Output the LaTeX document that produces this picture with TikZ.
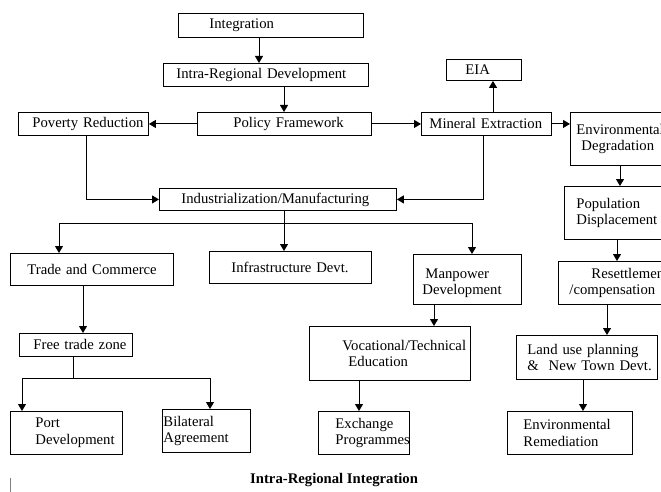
\documentclass[tikz,border=0pt]{standalone}
\usepackage{fontspec}
\setmainfont{Liberation Serif}
\usetikzlibrary{arrows.meta}
\tikzset{
  box/.style={draw=black, line width=0.9pt, inner sep=0pt, anchor=north west, align=left,
    font=\fontsize{14.7}{16.5}\selectfont},
  arr/.style={draw=black, line width=1pt, -{Triangle[length=7pt,width=8pt]}},
  conn/.style={draw=black, line width=1pt},
  caption/.style={font=\fontsize{14.7}{16.5}\selectfont\bfseries, anchor=west, inner sep=0pt}
}
\newcommand{\tl}[2]{\hspace*{#1pt}\mbox{#2}}
\hbadness=10000 \hfuzz=400pt
\begin{document}
\begin{tikzpicture}[x=1pt,y=-1pt]
\useasboundingbox (0,0) rectangle (661,492);
\clip (0,0) rectangle (661,492);
% boxes
\node[box, text width=185pt, minimum height=24pt] (integ) at (178,13) {\tl{31}{Integration}};
\node[box, text width=205pt, minimum height=23pt] (intra) at (163,63) {\tl{13}{Intra-Regional Development}};
\node[box, text width=174pt, minimum height=23pt] (policy) at (197,112) {\tl{36}{Policy Framework}};
\node[box, text width=130pt, minimum height=23pt] (poverty) at (18,112) {\tl{14}{Poverty Reduction}};
\node[box, text width=130pt, minimum height=23pt] (mineral) at (421,112) {\tl{8}{Mineral Extraction}};
\node[box, text width=75pt, minimum height=21pt] (eia) at (446,59) {\tl{19}{EIA}};
\node[box, text width=120pt, minimum height=53pt] (envdeg) at (570,112) {\tl{6}{Environmental}\\\tl{11}{Degradation}};
\node[box, text width=110pt, minimum height=53pt] (popdis) at (564,186) {\tl{12}{Population}\\\tl{12}{Displacement}};
\node[box, text width=122pt, minimum height=43pt] (resettle) at (558,261) {\tl{33}{Resettlement}\\\tl{11}{/compensation}};
\node[box, text width=141pt, minimum height=44pt] (landuse) at (516,335) {\tl{11}{Land use planning}\\\tl{11}{\&\ \ New Town Devt.}};
\node[box, text width=125pt, minimum height=43pt] (envrem) at (507,411) {\tl{16}{Environmental}\\\tl{16}{Remediation}};
\node[box, text width=237pt, minimum height=22pt] (indus) at (159,188) {\tl{22}{Industrialization/Manufacturing}};
\node[box, text width=163pt, minimum height=32pt] (trade) at (10,253) {\tl{17}{Trade and Commerce}};
\node[box, text width=162pt, minimum height=32pt] (infra) at (209,251) {\tl{22}{Infrastructure Devt.}};
\node[box, text width=108pt, minimum height=50pt] (manpower) at (413,254) {\tl{12}{\rule{0pt}{17.7pt}Manpower}\\\tl{9}{Development}};
\node[box, text width=161pt, minimum height=54pt] (voc) at (309,326) {\tl{33}{Vocational/Technical}\\\tl{39}{Education}};
\node[box, text width=91pt, minimum height=43pt] (exch) at (318,411) {\tl{17}{Exchange}\\\tl{17}{Programmes}};
\node[box, text width=113pt, minimum height=23pt] (freetrade) at (19,333) {\tl{14}{Free trade zone}};
\node[box, text width=112pt, minimum height=43pt] (port) at (10,411) {\tl{25}{Port}\\\tl{25}{Development}};
\node[box, text width=88pt, minimum height=43pt] (bilat) at (162,409) {\tl{1}{Bilateral}\\\tl{1}{Agreement}};
\node[caption] (cap) at (250,480) {Intra-Regional Integration};
% connectors
\draw[arr] (259,0 |- integ.south) -- (259,0 |- intra.north);
\draw[arr] (284,0 |- intra.south) -- (284,0 |- policy.north);
\draw[arr] (policy.west) -- (policy.west -| poverty.east);
\draw[arr] (policy.east) -- (mineral.west);
\draw[arr] (493,0 |- mineral.north) -- (493,0 |- eia.south);
\draw[arr] (mineral.east) -- (mineral.east -| envdeg.west);
\draw[arr] (620,0 |- envdeg.south) -- (620,0 |- popdis.north);
\draw[arr] (617,0 |- popdis.south) -- (617,0 |- resettle.north);
\draw[arr] (607,0 |- resettle.south) -- (607,0 |- landuse.north);
\draw[arr] (583,0 |- landuse.south) -- (583,0 |- envrem.north);
\draw[arr] (483,0 |- mineral.south) |- (indus.east);
\draw[arr] (86,0 |- poverty.south) |- (indus.west);
\draw[arr] (284,0 |- indus.south) -- (284,0 |- infra.north);
\coordinate (split) at (284,223);
\draw[arr] (split) -| (59,0 |- trade.north);
\draw[arr] (split) -| (472,0 |- manpower.north);
\draw[arr] (434,0 |- manpower.south) -- (434,0 |- voc.north);
\draw[arr] (359,0 |- voc.south) -- (359,0 |- exch.north);
\draw[arr] (83,0 |- trade.south) -- (83,0 |- freetrade.north);
\coordinate (ftsplit) at (73,378);
\draw[conn] (73,0 |- freetrade.south) -- (ftsplit);
\draw[arr] (ftsplit) -| (22,0 |- port.north);
\draw[arr] (ftsplit) -| (210,0 |- bilat.north);
% stray mark
\draw[gray, line width=1pt] (10,478) -- (10,492);
\end{tikzpicture}
\end{document}
